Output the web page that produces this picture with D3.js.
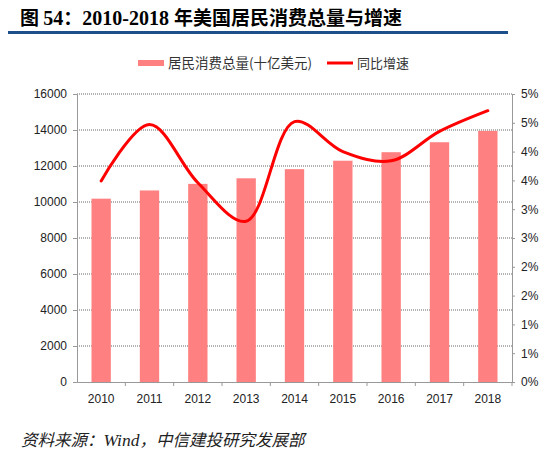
<!DOCTYPE html>
<html><head><meta charset="utf-8">
<script src="https://cdn.jsdelivr.net/npm/d3@7/dist/d3.min.js"></script>
<style>
html,body{margin:0;padding:0;background:#fff;}
svg{display:block;}
</style></head>
<body>
<svg id="c" width="554" height="464"></svg>
<script>
const years = ["2010","2011","2012","2013","2014","2015","2016","2017","2018"];
const consumption = [10185, 10641, 11007, 11317, 11824, 12294, 12767, 13321, 13952];
const growth = [3.49, 4.47, 3.46, 2.79, 4.52, 4.00, 3.84, 4.35, 4.71];
const leftTicks = [0, 2000, 4000, 6000, 8000, 10000, 12000, 14000, 16000];
const rightTicks = [0, 0.5, 1, 1.5, 2, 2.5, 3, 3.5, 4, 4.5, 5];
const rightTickLabels = ["0%","1%","1%","2%","2%","3%","3%","4%","4%","5%","5%"];
// title pieces: [text, isLatin]
const titleParts = [["图 ", false], ["54", true], ["：", false], ["2010-2018 ", true], ["年美国居民消费总量与增速", false]];
const legendLabels = ["居民消费总量(十亿美元)", "同比增速"];
const sourceParts = [["资料来源：", false], ["Wind", true], ["，中信建投研究发展部", false]];

const svg = d3.select("#c");
const L = 77, R = 512, T = 94, B = 382;
const numFont = "'Liberation Sans', Arial, sans-serif";
const cjk = "'Noto Sans CJK SC', sans-serif";
const serif = "'Liberation Serif', 'Times New Roman', serif";

const x = d3.scaleBand().domain(years).range([L, R]).paddingInner(0.6).paddingOuter(0.3);
const xb = d3.scaleBand().domain(years).range([L, R]);
const y = d3.scaleLinear().domain([0, 16000]).range([B, T]);
const y2 = d3.scaleLinear().domain([0, 5]).range([B, T]);

// Title
const title = svg.append("text").attr("x", 20).attr("y", 25).attr("font-weight", "bold").attr("fill", "#000");
title.selectAll("tspan").data(titleParts).join("tspan")
  .attr("font-family", d => d[1] ? serif : cjk)
  .attr("font-size", d => d[1] ? 20 : 19)
  .text(d => d[0]);

svg.append("rect").attr("x", 8).attr("y", 31).attr("width", 500).attr("height", 3).attr("fill", "#1d4f8b");

// Gridlines
svg.append("g").selectAll("line").data(leftTicks.slice(1)).join("line")
  .attr("x1", L).attr("x2", R).attr("y1", d => y(d)).attr("y2", d => y(d))
  .attr("stroke", "#666").attr("stroke-width", 1).attr("stroke-dasharray", "1,1");

// Bars
svg.append("g").selectAll("rect").data(years).join("rect")
  .attr("x", d => x(d)).attr("width", x.bandwidth())
  .attr("y", (d,i) => y(consumption[i])).attr("height", (d,i) => B - y(consumption[i]))
  .attr("fill", "#ff8080");

// Left axis
const gl = svg.append("g").attr("transform", `translate(${L},0)`)
  .call(d3.axisLeft(y).tickValues(leftTicks).tickSize(4).tickPadding(6).tickFormat(d3.format("d")));
gl.select(".domain").attr("stroke", "#999");
gl.selectAll(".tick line").attr("stroke", "#999");
gl.selectAll("text").attr("font-family", numFont).attr("font-size", 12).attr("fill", "#222");

// Right axis
const gr = svg.append("g").attr("transform", `translate(${R},0)`)
  .call(d3.axisRight(y2).tickValues(rightTicks).tickSize(3).tickPadding(6).tickFormat((d,i) => rightTickLabels[i]));
gr.select(".domain").attr("stroke", "#999");
gr.selectAll(".tick line").attr("stroke", "#999");
gr.selectAll("text").attr("font-family", numFont).attr("font-size", 12).attr("fill", "#222");

// Bottom axis
const gb = svg.append("g").attr("transform", `translate(0,${B})`)
  .call(d3.axisBottom(xb).tickSize(0).tickPadding(12));
gb.select(".domain").attr("stroke", "#999");
gb.selectAll("text").attr("font-family", numFont).attr("font-size", 12).attr("fill", "#222");
svg.append("g").selectAll("line").data(years).join("line")
  .attr("x1", d => xb(d) + xb.bandwidth()).attr("x2", d => xb(d) + xb.bandwidth())
  .attr("y1", B).attr("y2", B + 4).attr("stroke", "#999");

// Line
const line = d3.line().x((d,i) => xb(years[i]) + xb.bandwidth()/2).y(d => y2(d)).curve(d3.curveCatmullRom.alpha(0.5));
svg.append("path").datum(growth).attr("d", line).attr("fill", "none").attr("stroke", "#ff0000").attr("stroke-width", 3).attr("stroke-linecap", "round");

// Legend
const lg = svg.append("g");
lg.append("rect").attr("x", 138).attr("y", 60).attr("width", 26).attr("height", 6).attr("fill", "#ff8080");
lg.append("text").attr("x", 168).attr("y", 68).attr("font-family", cjk).attr("font-size", 13.5).attr("fill", "#333").text(legendLabels[0]);
lg.append("line").attr("x1", 327).attr("x2", 353).attr("y1", 63).attr("y2", 63).attr("stroke", "#ff0000").attr("stroke-width", 3);
lg.append("text").attr("x", 357).attr("y", 68).attr("font-family", cjk).attr("font-size", 13).attr("fill", "#333").text(legendLabels[1]);

// Source
const src = svg.append("text").attr("x", 21).attr("y", 446).attr("font-style", "italic").attr("fill", "#222");
src.selectAll("tspan").data(sourceParts).join("tspan")
  .attr("font-family", d => d[1] ? serif : cjk)
  .attr("font-size", d => d[1] ? 17.5 : 16.5)
  .text(d => d[0]);
</script>
</body></html>
